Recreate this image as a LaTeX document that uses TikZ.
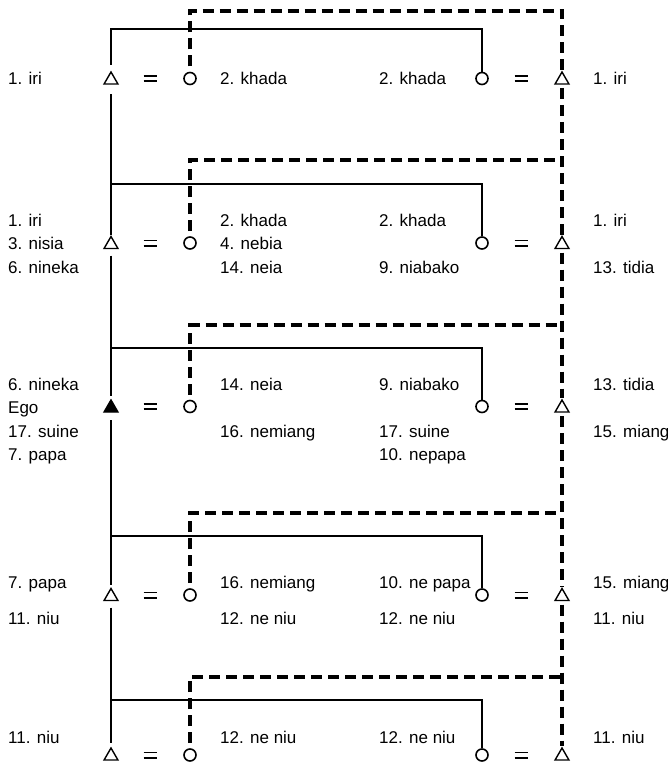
\documentclass[tikz,border=0pt]{standalone}
\usepackage{fontspec}
\setmainfont{Liberation Sans}
\usetikzlibrary{shapes.geometric}
\newcommand\labfont{\fontsize{17}{20}\selectfont}
% marriage sign: two short bars
\newcommand\eqbars{\vbox{\hrule width 13pt height 1.8pt\vskip 3.4pt\hrule width 13pt height 1.8pt}}

\begin{document}
\begin{tikzpicture}[x=1pt,y=-1pt,
  lbl/.style={anchor=base west, inner sep=0pt, font=\labfont},
  male/.style={draw, regular polygon, regular polygon sides=3, minimum size=16pt, inner sep=0pt, line width=1.4pt},
  ego/.style={male, fill=black},
  female/.style={draw, circle, minimum size=12pt, inner sep=0pt, line width=1.6pt},
  marr/.style={inner sep=0pt},
  kin/.style={line width=1.8pt},
  aff/.style={line width=3.6pt, dash pattern=on 11pt off 6pt},
]
\useasboundingbox[fill=white] (0,0) rectangle (668,765);

% ---- generation symbols ----
\node[male]   (lt1) at (111,80) {};
\node[marr]   (le1) at (150,78.5) {\eqbars};
\node[female] (lc1) at (190,78.5) {};
\node[female] (rc1) at (482,78.5) {};
\node[marr]   (re1) at (521,78.5) {\eqbars};
\node[male]   (rt1) at (562,80) {};

\node[male]   (lt2) at (111,244.5) {};
\node[marr]   (le2) at (150,243) {\eqbars};
\node[female] (lc2) at (190,243) {};
\node[female] (rc2) at (482,243) {};
\node[marr]   (re2) at (521,243) {\eqbars};
\node[male]   (rt2) at (562,244.5) {};

\node[ego]    (lt3) at (111,408) {};
\node[marr]   (le3) at (150,406.5) {\eqbars};
\node[female] (lc3) at (190,406.5) {};
\node[female] (rc3) at (482,406.5) {};
\node[marr]   (re3) at (521,406.5) {\eqbars};
\node[male]   (rt3) at (562,408) {};

\node[male]   (lt4) at (111,596.5) {};
\node[marr]   (le4) at (150,595) {\eqbars};
\node[female] (lc4) at (190,595) {};
\node[female] (rc4) at (482,595) {};
\node[marr]   (re4) at (521,595) {\eqbars};
\node[male]   (rt4) at (562,596.5) {};

\node[male]   (lt5) at (111,756) {};
\node[marr]   (le5) at (150,755) {\eqbars};
\node[female] (lc5) at (190,755) {};
\node[female] (rc5) at (482,755) {};
\node[marr]   (re5) at (521,755) {\eqbars};
\node[male]   (rt5) at (562,756) {};

% ---- corner points ----
\coordinate (s1) at (111,29);
\coordinate (s2) at (111,184);
\coordinate (s3) at (111,348);
\coordinate (s4) at (111,536);
\coordinate (s5) at (111,700);
\coordinate (dl1) at (190,11);  \coordinate (dr1) at (562,11);
\coordinate (dl2) at (190,160); \coordinate (dr2) at (562,160);
\coordinate (dl3) at (190,325); \coordinate (dr3) at (562,325);
\coordinate (dl4) at (190,513); \coordinate (dr4) at (562,513);
\coordinate (dl5) at (190,677); \coordinate (dr5) at (562,677);

% ---- solid lines ----
\draw[kin, shorten <=15pt] (lt1.center) -- (s1) -| (rc1.north);
\draw[kin, shorten <=14.5pt, shorten >=9.5pt] (lt1.center) -- (lt2.center);
\draw[kin, shorten <=11pt, shorten >=12pt] (lt2.center) -- (lt3.center);
\draw[kin, shorten <=12pt, shorten >=12pt] (lt3.center) -- (lt4.center);
\draw[kin, shorten <=11pt, shorten >=13pt] (lt4.center) -- (lt5.center);
\draw[kin] (s2) -| (rc2.north);
\draw[kin] (s3) -| (rc3.north);
\draw[kin] (s4) -| (rc4.north);
\draw[kin] (s5) -| (rc5.north);

% ---- dashed lines ----
\draw[aff, shorten <=12pt, shorten >=10pt] (lc1.center) -- (dl1) -- (dr1) -- (rt1.center);
\draw[aff, shorten <=12pt] (lc2.center) -- (dl2) -- (dr2);
\draw[aff, shorten <=12pt] (lc3.center) -- (dl3) -- (dr3);
\draw[aff, shorten <=12pt] (lc4.center) -- (dl4) -- (dr4);
\draw[aff, shorten <=12pt] (lc5.center) -- (dl5) -- (dr5);
\draw[aff, shorten <=8pt, shorten >=10pt] (rt1.center) -- (rt2.center);
\draw[aff, shorten <=8pt, shorten >=10pt] (rt2.center) -- (rt3.center);
\draw[aff, shorten <=8pt, shorten >=10pt] (rt3.center) -- (rt4.center);
\draw[aff, shorten <=8pt, shorten >=10pt] (rt4.center) -- (rt5.center);

% ---- labels ----
\node[lbl] (ta1) at (8,85) {1. iri};
\node[lbl] (tb1) at (220,85) {2. khada};
\node[lbl] (tc1) at (379,85) {2. khada};
\node[lbl] (td1) at (593,85) {1. iri};

\node[lbl] (ta2a) at (8,226) {1. iri};
\node[lbl] (ta2b) at (8,249) {3. nisia};
\node[lbl] (ta2c) at (8,273) {6. nineka};
\node[lbl] (tb2a) at (220,226) {2. khada};
\node[lbl] (tb2b) at (220,249) {4. nebia};
\node[lbl] (tb2c) at (220,273) {14. neia};
\node[lbl] (tc2a) at (379,226) {2. khada};
\node[lbl] (tc2c) at (379,273) {9. niabako};
\node[lbl] (td2a) at (593,226) {1. iri};
\node[lbl] (td2c) at (593,273) {13. tidia};

\node[lbl] (ta3a) at (8,390) {6. nineka};
\node[lbl] (ta3b) at (8,413) {Ego};
\node[lbl] (ta3c) at (8,437) {17. suine};
\node[lbl] (ta3d) at (8,460) {7. papa};
\node[lbl] (tb3a) at (220,390) {14. neia};
\node[lbl] (tb3c) at (220,437) {16. nemiang};
\node[lbl] (tc3a) at (379,390) {9. niabako};
\node[lbl] (tc3c) at (379,437) {17. suine};
\node[lbl] (tc3d) at (379,460) {10. nepapa};
\node[lbl] (td3a) at (593,390) {13. tidia};
\node[lbl] (td3c) at (593,437) {15. miang};

\node[lbl] (ta4a) at (8,588) {7. papa};
\node[lbl] (ta4b) at (8,624) {11. niu};
\node[lbl] (tb4a) at (220,588) {16. nemiang};
\node[lbl] (tb4b) at (220,624) {12. ne niu};
\node[lbl] (tc4a) at (379,588) {10. ne papa};
\node[lbl] (tc4b) at (379,624) {12. ne niu};
\node[lbl] (td4a) at (593,588) {15. miang};
\node[lbl] (td4b) at (593,624) {11. niu};

\node[lbl] (ta5) at (8,743) {11. niu};
\node[lbl] (tb5) at (220,743) {12. ne niu};
\node[lbl] (tc5) at (379,743) {12. ne niu};
\node[lbl] (td5) at (593,743) {11. niu};
\end{tikzpicture}
\end{document}
